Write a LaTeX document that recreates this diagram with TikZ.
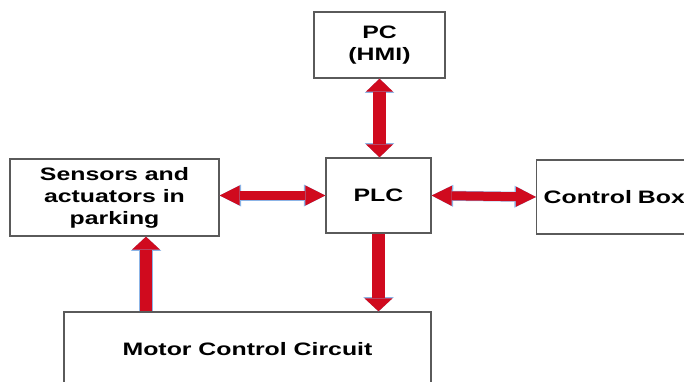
\documentclass[tikz,border=0pt]{standalone}
\usepackage{fontspec}
\setmainfont{Liberation Sans}[FakeStretch=1.38]
\usetikzlibrary{arrows.meta}
\definecolor{arrred}{RGB}{208,10,30}
\definecolor{arrblue}{RGB}{140,180,230}
\definecolor{boxline}{RGB}{90,90,90}
\tikzset{
  blk/.style={draw=boxline, line width=1.3pt, fill=white, inner sep=0pt,
    align=center, font=\fontsize{18}{22}\selectfont\bfseries},
  harrow/.style={draw=arrred, line width=9pt,
    {Triangle[width=20pt,length=20pt,line width=0pt]}-{Triangle[width=20pt,length=20pt,line width=0pt]},
    preaction={draw=arrblue, line width=10pt,
      {Triangle[width=22pt,length=21.5pt,line width=0pt]}-{Triangle[width=22pt,length=21.5pt,line width=0pt]}}},
  vbiarrow/.style={draw=arrred, line width=12.5pt,
    {Triangle[width=27pt,length=13pt,line width=0pt]}-{Triangle[width=27pt,length=13pt,line width=0pt]},
    preaction={draw=arrblue, line width=13.5pt,
      {Triangle[width=29.5pt,length=14.3pt,line width=0pt]}-{Triangle[width=29.5pt,length=14.3pt,line width=0pt]}}},
  varrow/.style={draw=arrred, line width=12.5pt,
    -{Triangle[width=28pt,length=13pt,line width=0pt]},
    preaction={draw=arrblue, line width=13.5pt,
      -{Triangle[width=30.5pt,length=14.3pt,line width=0pt]}}}
}
\begin{document}
\begin{tikzpicture}[x=1pt,y=-1pt]
\useasboundingbox (0,0) rectangle (684,381);
\clip (0,0) rectangle (684,381);
\node[blk, minimum width=131pt, minimum height=66pt] (pc) at (379.5,45) {PC\\(HMI)};
\node[blk, minimum width=105pt, minimum height=75pt] (plc) at (378.5,195.5) {PLC};
\node[blk, minimum width=209pt, minimum height=77pt] (sens) at (114.5,197.5) {Sensors and\\actuators in\\parking};
\node[blk, anchor=west, text width=146pt, inner xsep=7pt, align=left, minimum height=74pt] (ctrl) at (536,197) {Control Box};
\node[blk, minimum width=367pt, minimum height=74pt] (motor) at (247.5,349) {Motor Control Circuit};
\coordinate (ax) at (146,0);
\draw[vbiarrow] (pc.south) -- (pc.south |- plc.north);
\draw[harrow] (sens.east |- plc.west) -- (plc.west);
\draw[harrow] (plc.east) -- (ctrl.west);
\draw[varrow] (motor.north -| ax) -- (sens.south -| ax);
\draw[varrow] (plc.south) -- (plc.south |- motor.north);
\end{tikzpicture}
\end{document}
